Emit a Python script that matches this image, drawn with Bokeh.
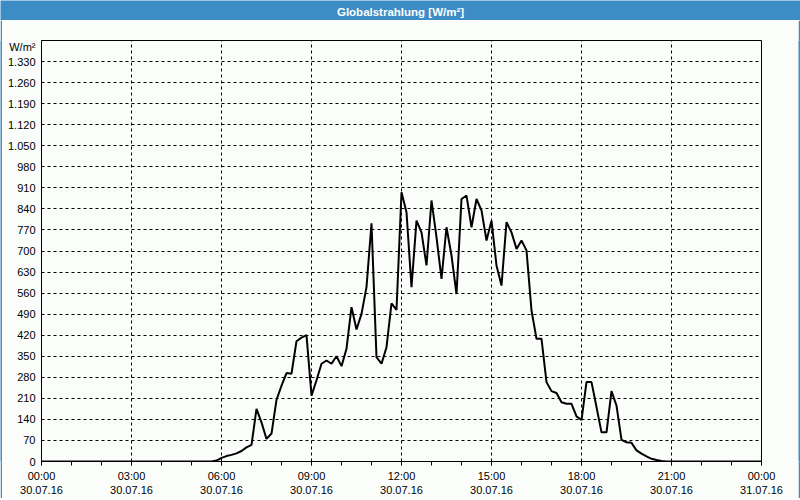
from bokeh.plotting import figure
from bokeh.models import FixedTicker, Range1d, ColumnDataSource
from bokeh.layouts import column, row
from bokeh.embed import file_html
from bokeh.resources import INLINE
from bokeh.core.properties import value

title_text = "Globalstrahlung [W/m²]"
y_unit = "W/m²"

times = ["00:00", "05:40", "05:50", "06:00", "06:10", "06:20", "06:30", "06:40", "06:50",
         "07:00", "07:10", "07:20", "07:30", "07:40", "07:50", "08:00", "08:10", "08:20",
         "08:30", "08:40", "08:50", "09:00", "09:10", "09:20", "09:30", "09:40", "09:50",
         "10:00", "10:10", "10:20", "10:30", "10:40", "10:50", "11:00", "11:10", "11:20",
         "11:30", "11:40", "11:50", "12:00", "12:10", "12:20", "12:30", "12:40", "12:50",
         "13:00", "13:10", "13:20", "13:30", "13:40", "13:50", "14:00", "14:10", "14:20",
         "14:30", "14:40", "14:50", "15:00", "15:10", "15:20", "15:30", "15:40", "15:50",
         "16:00", "16:10", "16:20", "16:30", "16:40", "16:50", "17:00", "17:10", "17:20",
         "17:30", "17:40", "17:50", "18:00", "18:10", "18:20", "18:30", "18:40", "18:50",
         "19:00", "19:10", "19:20", "19:30", "19:40", "19:50", "20:00", "20:10", "20:20",
         "20:30", "20:40", "20:50", "24:00"]
values = [0, 0, 3, 12, 18, 22, 27, 35, 47,
          55, 175, 130, 75, 93, 205, 252, 294, 292,
          400, 412, 420, 219, 270, 325, 336, 325, 350,
          317, 375, 513, 439, 491, 580, 792, 347, 325,
          380, 526, 504, 895, 829, 580, 801, 762, 652,
          868, 746, 607, 779, 685, 557, 873, 884, 779,
          873, 835, 735, 801, 652, 585, 796, 762, 707,
          735, 702, 502, 408, 408, 264, 234, 228, 197,
          192, 192, 150, 138, 264, 264, 181, 97, 97,
          234, 186, 72, 64, 62, 37, 26, 17, 9,
          5, 2, 0, 0]

x_tick_hours = [0, 3, 6, 9, 12, 15, 18, 21, 24]
x_minor_hours = list(range(0, 25))
x_tick_labels = ["00:00\n30.07.16", "03:00\n30.07.16", "06:00\n30.07.16", "09:00\n30.07.16",
                 "12:00\n30.07.16", "15:00\n30.07.16", "18:00\n30.07.16", "21:00\n30.07.16",
                 "00:00\n31.07.16"]
y_ticks = [0, 70, 140, 210, 280, 350, 420, 490, 560, 630, 700, 770, 840, 910, 980,
           1050, 1120, 1190, 1260, 1330]
y_max = 1400
y_unit_at = 1380


def to_hours(t):
    h, m = t.split(":")
    return int(h) + int(m) / 60.0


src = ColumnDataSource(dict(x=[to_hours(t) for t in times], y=values))

BLUE = "#3c8dc5"
FONT = "Liberation Sans"
BG = "#fafdfa"


def blue_box(w, h):
    b = figure(width=w, height=h, toolbar_location=None, output_backend="svg", min_border=0,
               background_fill_color=BLUE, border_fill_color=BLUE, outline_line_color=None,
               x_range=Range1d(0, 1), y_range=Range1d(0, 1))
    b.axis.visible = False
    b.grid.visible = False
    return b


# title bar
tb = blue_box(800, 20)
tb.text(x=[0.5], y=[0.45], text=[title_text], text_align="center", text_baseline="middle",
        text_color="white", text_font=value(FONT), text_font_style="bold", text_font_size="11.5px")

p = figure(width=796, height=478, x_range=Range1d(0, 24), y_range=Range1d(0, y_max),
           toolbar_location=None, output_backend="svg",
           min_border_left=39, min_border_right=37, min_border_top=20, min_border_bottom=37,
           background_fill_color=BG, border_fill_color=BG,
           outline_line_color="black", outline_line_width=1)

p.line("x", "y", source=src, line_color="black", line_width=2)

p.xaxis.ticker = FixedTicker(ticks=x_tick_hours, minor_ticks=x_minor_hours)
p.xaxis.major_label_overrides = {h: lab for h, lab in zip(x_tick_hours, x_tick_labels)}
p.yaxis.ticker = FixedTicker(ticks=y_ticks + [y_unit_at], minor_ticks=[])
ylabels = {v: f"{v:,}".replace(",", ".") for v in y_ticks}
ylabels[y_unit_at] = y_unit
p.yaxis.major_label_overrides = ylabels

for ax in (p.xaxis, p.yaxis):
    ax.axis_line_color = "black"
    ax.major_tick_line_color = "black"
    ax.minor_tick_line_color = "black"
    ax.major_tick_in = 0
    ax.minor_tick_in = 0
    ax.major_label_text_font = FONT
    ax.major_label_text_font_size = "11px"
    ax.major_label_text_color = "black"

p.xaxis.major_tick_out = 4
p.xaxis.minor_tick_out = 4
p.xaxis.major_label_standoff = 4
p.yaxis.major_tick_out = 0
p.yaxis.major_label_standoff = 6

p.xgrid.ticker = FixedTicker(ticks=x_tick_hours)
p.ygrid.ticker = FixedTicker(ticks=y_ticks)
for g in (p.xgrid, p.ygrid):
    g.grid_line_color = "black"
    g.grid_line_dash = "3 3"
    g.grid_line_width = 1

layout = column(tb, row(blue_box(2, 478), p, blue_box(2, 478), spacing=0), blue_box(800, 2),
                spacing=0)
open("out.html", "w").write(file_html(layout, INLINE))
